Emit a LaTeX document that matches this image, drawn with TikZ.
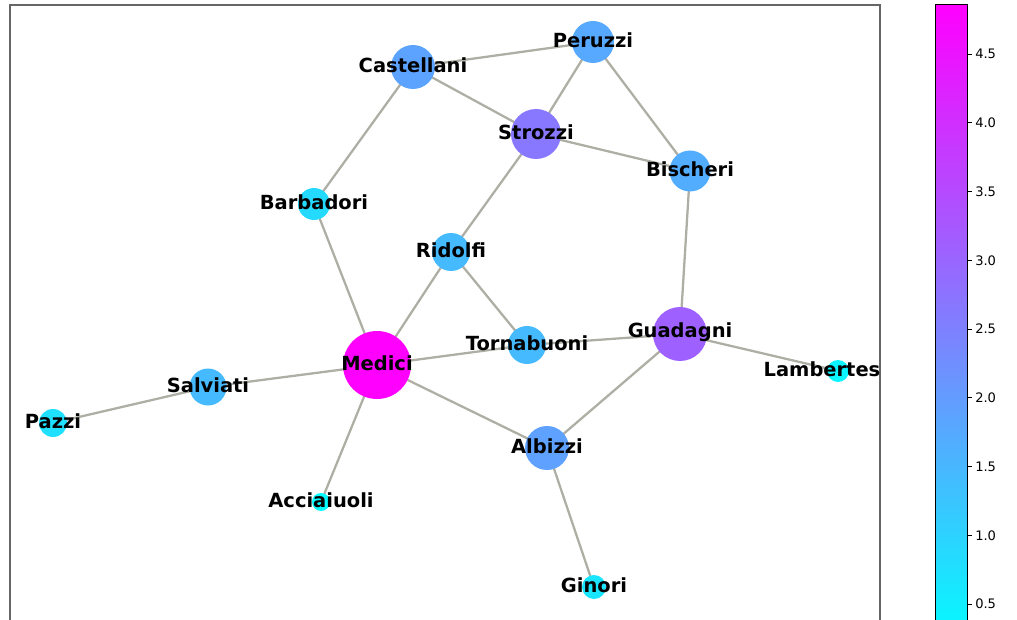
\documentclass[tikz,border=0pt]{standalone}
\usepackage{fontspec}
\setmainfont{DejaVu Sans}
\usetikzlibrary{backgrounds}
\definecolor{edgegray}{HTML}{AEAEA4}
\definecolor{cMed}{HTML}{FF00FF}
\definecolor{cGua}{HTML}{9E61FF}
\definecolor{cStr}{HTML}{8778FF}
\definecolor{cCas}{HTML}{5CA3FF}
\definecolor{cPer}{HTML}{57A8FF}
\definecolor{cAlb}{HTML}{5EA1FF}
\definecolor{cBis}{HTML}{52ADFF}
\definecolor{cRid}{HTML}{45BAFF}
\definecolor{cBar}{HTML}{24DBFF}
\definecolor{cPaz}{HTML}{1FE0FF}
\definecolor{cGin}{HTML}{1AE5FF}
\definecolor{cLam}{HTML}{0AF5FF}
\definecolor{cAcc}{HTML}{03FCFF}
\definecolor{spine}{HTML}{666666}
\tikzset{
  fam/.style={circle, inner sep=0pt, draw=none, fill=#1},
  lbl/.style={font=\fontsize{14.6}{16}\selectfont\bfseries, inner sep=0pt, text=black, yshift=1.5*0.75pt},
  edge/.style={draw=edgegray, line width=1.7pt},
  ticklbl/.style={font=\fontsize{9.8}{11}\selectfont, anchor=west, inner sep=0pt},
}
\begin{document}
\begin{tikzpicture}[x=0.75pt,y=-0.75pt]
\useasboundingbox (0,0) rectangle (1017,620);
% axes frame
\draw[spine, line width=1.1pt] (10,640) -- (10,5) -- (880,5) -- (880,640);
% nodes
\node[fam=cCas, minimum size=44pt*0.75] (Cas) at (413,67) {};
\node[fam=cPer, minimum size=42pt*0.75] (Per) at (593,42) {};
\node[fam=cStr, minimum size=50pt*0.75] (Str) at (536,134) {};
\node[fam=cBis, minimum size=41pt*0.75] (Bis) at (690,171) {};
\node[fam=cBar, minimum size=32pt*0.75] (Bar) at (314,204) {};
\node[fam=cRid, minimum size=38pt*0.75] (Rid) at (451,252) {};
\node[fam=cMed, minimum size=68pt*0.75] (Med) at (377,365) {};
\node[fam=cRid, minimum size=38pt*0.75] (Tor) at (527,345) {};
\node[fam=cGua, minimum size=54pt*0.75] (Gua) at (680,334) {};
\node[fam=cAlb, minimum size=44pt*0.75] (Alb) at (547,448) {};
\node[fam=cLam, minimum size=22pt*0.75] (Lam) at (838,371) {};
\node[fam=cRid, minimum size=37pt*0.75] (Sal) at (208,387) {};
\node[fam=cPaz, minimum size=28pt*0.75] (Paz) at (53,423) {};
\node[fam=cAcc, minimum size=18pt*0.75] (Acc) at (321,502) {};
\node[fam=cGin, minimum size=24pt*0.75] (Gin) at (594,587) {};
% edges
\begin{scope}[on background layer]
\foreach \a/\b in {Cas/Per, Cas/Str, Cas/Bar, Per/Str, Per/Bis, Str/Bis, Str/Rid, Bis/Gua,
  Bar/Med, Rid/Med, Rid/Tor, Med/Tor, Med/Sal, Med/Alb, Med/Acc, Tor/Gua, Gua/Alb, Gua/Lam,
  Sal/Paz, Alb/Gin}
  \draw[edge] (\a.center) -- (\b.center);
\end{scope}
% labels
\foreach \n/\t in {Cas/Castellani, Per/Peruzzi, Str/Strozzi, Bis/Bischeri, Bar/Barbadori,
  Rid/Ridolfi, Med/Medici, Tor/Tornabuoni, Gua/Guadagni, Alb/Albizzi,
  Sal/Salviati, Paz/Pazzi, Acc/Acciaiuoli, Gin/Ginori}
  \node[lbl] (L\n) at (\n.center) {\t};
\node[lbl] (LLam) at ([xshift=-16*0.75pt]Lam.center) {Lambertes};
% colorbar
\shade[top color=cMed, bottom color=cAcc] (935,4.5) rectangle (967,640);
\draw[black, line width=0.6pt] (935,640) -- (935,4.5) -- (967,4.5) -- (967,640);
\foreach \v [count=\i] in {4.5,4.0,3.5,3.0,2.5,2.0,1.5,1.0,0.5} {
  \pgfmathsetmacro{\yy}{54+(4.5-\v)*137.5}
  \draw[black, line width=0.6pt] (967,\yy) -- (971.5,\yy);
  \node[ticklbl] (t\i) at (975,\yy) {\v};
}
\end{tikzpicture}
\end{document}
